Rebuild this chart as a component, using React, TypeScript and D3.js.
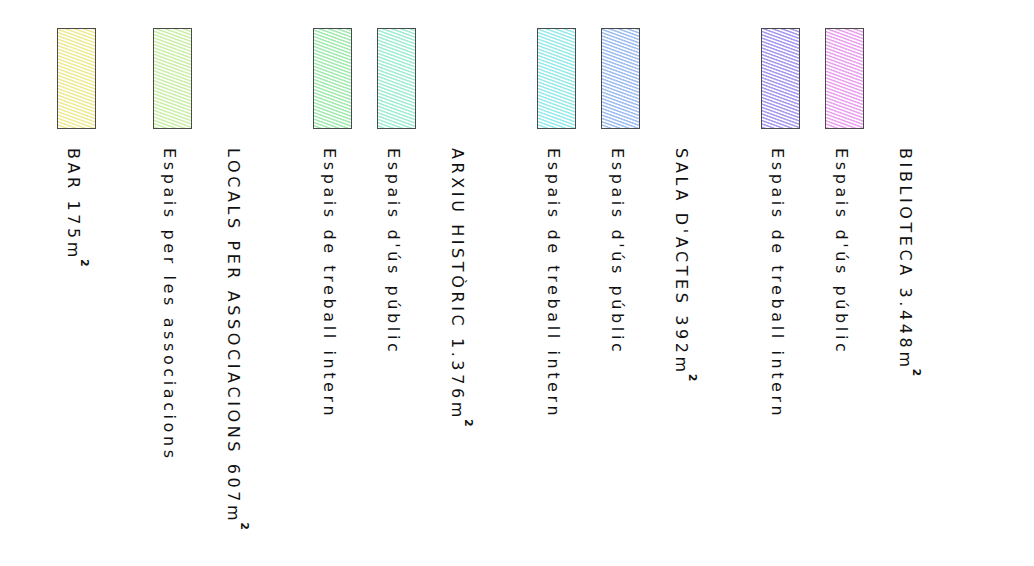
import * as d3 from "d3";
import React, { useRef, useEffect } from "react";

const width = 1034;
const height = 566;

// legend columns, left to right
const labels = [
	"BAR",
	"Espais per les associacions",
	"LOCALS PER ASSOCIACIONS",
	"Espais de treball intern",
	"Espais d'ús públic",
	"ARXIU HISTÒRIC",
	"Espais de treball intern",
	"Espais d'ús públic",
	"SALA D'ACTES",
	"Espais de treball intern",
	"Espais d'ús públic",
	"BIBLIOTECA",
];
// area in m² (null = sub item without area)
const areas = [175, null, 607, null, null, 1376, null, null, 392, null, null, 3448];
// hatch colour of the swatch (null = heading without swatch)
const colors = [
	"#e3dc4c",
	"#a6e46a",
	null,
	"#5fdc78",
	"#5ee0b4",
	null,
	"#52dcdc",
	"#5b8fe6",
	null,
	"#6a52de",
	"#de5ee6",
	null,
];
// 1 = starts a new group (wider gap)
const groupStart = [0, 1, 0, 1, 0, 0, 1, 0, 0, 1, 0, 0];

const itemStep = 64;
const groupGap = 96;
const firstX = 68;
const textTop = 148;
const swatch = { top: 28, height: 100, width: 38, offset: 11 };

const catalan = d3.formatLocale({
	decimal: ",",
	thousands: ".",
	grouping: [3],
	currency: ["", " €"],
});
const fmtArea = catalan.format(",d");

const Legend = () => {
	const d3Container = useRef(null);

	useEffect(() => {
		if (d3Container.current) {
			const svg = d3.select(d3Container.current);
			svg.selectAll("*").remove();
			renderLegend(svg);
		}
	}, [d3Container.current]);

	const renderLegend = (svg: any) => {
		const steps = labels.map((_, i) =>
			i === 0 ? 0 : groupStart[i] ? groupGap : itemStep
		);
		const offsets = Array.from(d3.cumsum(steps));
		const xScale = d3
			.scaleLinear()
			.domain([0, 1])
			.range([firstX, firstX + 1]);

		const defs = svg.append("defs");
		colors.forEach((c, i) => {
			if (!c) return;
			const pat = defs
				.append("pattern")
				.attr("id", `hatch-${i}`)
				.attr("patternUnits", "userSpaceOnUse")
				.attr("width", 12)
				.attr("height", 3.1)
				.attr("patternTransform", "rotate(20)");
			pat
				.append("line")
				.attr("x1", 0)
				.attr("x2", 12)
				.attr("y1", 1.5)
				.attr("y2", 1.5)
				.attr("stroke", c)
				.attr("stroke-width", 0.9);
		});

		const rows = labels.map((label, i) => ({
			label,
			area: areas[i],
			color: colors[i],
			x: xScale(offsets[i]),
			i,
		}));

		const g = svg.append("g");

		g.selectAll(".swatch")
			.data(rows.filter((d) => d.color))
			.enter()
			.append("rect")
			.attr("class", "swatch")
			.attr("x", (d: any) => d.x - swatch.offset + 0.5)
			.attr("y", swatch.top + 0.5)
			.attr("width", swatch.width)
			.attr("height", swatch.height)
			.attr("fill", (d: any) => `url(#hatch-${d.i})`)
			.attr("stroke", "#4a4a4a")
			.attr("stroke-width", 1);

		const text = g
			.selectAll(".label")
			.data(rows)
			.enter()
			.append("text")
			.attr("class", "label")
			.attr("transform", (d: any) => `translate(${d.x},${textTop}) rotate(90)`)
			.attr("font-family", "DejaVu Sans")
			.attr("font-size", 16)
			.attr("letter-spacing", 3.6)
			.attr("fill", "#111");

		text
			.append("tspan")
			.text((d: any) =>
				d.area != null ? `${d.label} ${fmtArea(d.area)}m` : d.label
			);
		text
			.filter((d: any) => d.area != null)
			.append("tspan")
			.attr("dx", -2)
			.attr("dy", -13)
			.attr("font-size", 11)
			.attr("font-weight", "bold")
			.text("2");
	};

	return (
		<svg
			width={width}
			height={height}
			style={{ position: "absolute", left: 0, top: 0, backgroundColor: "white" }}
			ref={d3Container}
		/>
	);
};

export default function App() {
	return <Legend />;
}
